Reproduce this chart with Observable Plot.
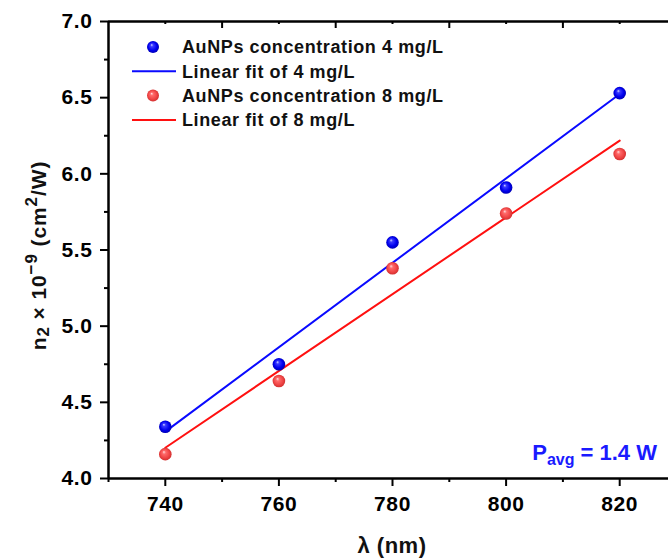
<!DOCTYPE html>
<html>
<head>
<meta charset="utf-8">
<script src="https://cdn.jsdelivr.net/npm/d3@7"></script>
<script src="https://cdn.jsdelivr.net/npm/@observablehq/plot@0.6"></script>
<style>
  html, body { margin: 0; padding: 0; background: #fff; overflow: hidden; }
  #chart { width: 668px; height: 560px; overflow: hidden; }
  #chart svg { font-family: "Liberation Sans", Arial, sans-serif; font-weight: bold; }
  #chart svg g[aria-label$="axis tick label"] text { letter-spacing: 0.6px; }
</style>
</head>
<body>
<div id="chart"></div>
<script>
// Nonlinear refractive index n2 (×10^-9 cm²/W) versus wavelength, two AuNP concentrations
const wavelengths = [740, 760, 780, 800, 820];
const n2Conc4 = [4.34, 4.75, 5.55, 5.91, 6.53];
const n2Conc8 = [4.16, 4.64, 5.38, 5.74, 6.13];
const seriesNames = ["AuNPs concentration 4 mg/L", "AuNPs concentration 8 mg/L"];
const fitNames = ["Linear fit of 4 mg/L", "Linear fit of 8 mg/L"];
const seriesColors = ["#0a0aff", "#ff1010"];

const xDomain = [730, 830];
const yDomain = [4.0, 7.0];
const xMajorTicks = [740, 760, 780, 800, 820];
const xMinorTicks = [730, 750, 770, 790, 810, 830];
const xTopMajorTicks = [750, 770, 790, 810];
const xTopMinorTicks = [740, 760, 780, 800, 820];
const yMajorTicks = [4.0, 4.5, 5.0, 5.5, 6.0, 6.5, 7.0];
const yMinorTicks = [4.25, 4.75, 5.25, 5.75, 6.25, 6.75];

const table = [
  ...wavelengths.map((w, i) => ({lambda: w, n2: n2Conc4[i], series: seriesNames[0]})),
  ...wavelengths.map((w, i) => ({lambda: w, n2: n2Conc8[i], series: seriesNames[1]}))
];

const W = 668, H = 560;
const mL = 108, mT = 21, mB = 82;
const frameH = H - mT - mB;
const axisW = 2.5;

const plot = Plot.plot({
  width: W,
  height: H,
  marginLeft: mL,
  marginRight: 0,
  marginTop: mT,
  marginBottom: mB,
  style: {fontFamily: "'Liberation Sans', Arial, sans-serif", fontWeight: "bold", color: "black", background: "white"},
  x: {domain: xDomain, range: [mL, mL + 568]},
  y: {domain: yDomain},
  color: {domain: seriesNames, range: seriesColors},
  marks: [
    // linear fits
    Plot.linearRegressionY(table, {x: "lambda", y: "n2", stroke: "series", ci: 0, strokeWidth: 2}),
    // measured points, drawn as shaded balls
    Plot.dot(table.filter(d => d.series === seriesNames[0]), {x: "lambda", y: "n2", r: 6.3, fill: "url(#ball-blue)"}),
    Plot.dot(table.filter(d => d.series === seriesNames[1]), {x: "lambda", y: "n2", r: 6.3, fill: "url(#ball-red)"}),
    // frame: left, bottom, top
    Plot.ruleX([xDomain[0]], {strokeWidth: axisW}),
    Plot.ruleY([yDomain[0]], {strokeWidth: axisW}),
    Plot.ruleY([yDomain[1]], {strokeWidth: axisW}),
    // bottom axis
    Plot.axisX(xMajorTicks, {anchor: "bottom", tickSize: 8, tickPadding: 10, strokeWidth: 2, fontSize: 21, tickFormat: d => String(d), label: null}),
    Plot.axisX(xMinorTicks, {anchor: "bottom", tickSize: 4, strokeWidth: 2, fill: "none", label: null}),
    // top axis ticks point inward
    Plot.tickX(xTopMajorTicks, {x: d => d, insetBottom: frameH - 7, strokeWidth: 2}),
    Plot.tickX(xTopMinorTicks, {x: d => d, insetBottom: frameH - 3, strokeWidth: 2}),
    // left axis
    Plot.axisY(yMajorTicks, {anchor: "left", tickSize: 8, tickPadding: 8, strokeWidth: 2, fontSize: 21, tickFormat: d3.format(".1f"), label: null}),
    Plot.axisY(yMinorTicks, {anchor: "left", tickSize: 4, strokeWidth: 2, fill: "none", label: null})
  ]
});

const svg = d3.select(plot);

// radial gradients giving the markers a glossy sphere look
const defs = svg.insert("defs", ":first-child");
function ball(id, stops) {
  const g = defs.append("radialGradient").attr("id", id)
    .attr("cx", "50%").attr("cy", "50%").attr("r", "55%").attr("fx", "38%").attr("fy", "32%");
  stops.forEach(([o, c]) => g.append("stop").attr("offset", o).attr("stop-color", c));
}
ball("ball-blue", [["0%", "#d8d8ff"], ["22%", "#3a3aff"], ["65%", "#0000ee"], ["100%", "#0000a8"]]);
ball("ball-red", [["0%", "#ffe0e0"], ["25%", "#ff6a6a"], ["65%", "#f04646"], ["100%", "#cc2a2a"]]);

const x = plot.scale("x"), y = plot.scale("y");
const font = "'Liberation Sans', Arial, sans-serif";

// legend
const legendRows = [
  {kind: "dot", fill: "url(#ball-blue)", label: seriesNames[0]},
  {kind: "line", stroke: seriesColors[0], label: fitNames[0]},
  {kind: "dot", fill: "url(#ball-red)", label: seriesNames[1]},
  {kind: "line", stroke: seriesColors[1], label: fitNames[1]}
];
const legend = svg.append("g").attr("transform", "translate(132,47)")
  .attr("font-family", font).attr("font-weight", "bold").attr("font-size", 18)
  .attr("text-anchor", "start").attr("letter-spacing", "0.6px");
legendRows.forEach((row, i) => {
  const g = legend.append("g").attr("transform", `translate(0,${i * 24.3})`);
  if (row.kind === "dot") g.append("circle").attr("cx", 21).attr("r", 6).attr("fill", row.fill);
  else g.append("line").attr("x1", 0).attr("x2", 44).attr("stroke", row.stroke).attr("stroke-width", 2);
  g.append("text").attr("x", 50).attr("dy", "0.36em").attr("fill", "#111").text(row.label);
});

// y axis title with subscript and superscripts
const yTitle = svg.append("text")
  .attr("transform", `translate(46,${(y.range[0] + y.range[1]) / 2 + 6}) rotate(-90)`)
  .attr("text-anchor", "middle").attr("font-family", font).attr("font-weight", "bold")
  .attr("font-size", 21).attr("letter-spacing", "0.9px").attr("fill", "#111");
yTitle.append("tspan").text("n");
yTitle.append("tspan").attr("font-size", 17).attr("baseline-shift", "-3").text("2");
yTitle.append("tspan").text(" × 10");
yTitle.append("tspan").attr("font-size", 17).attr("baseline-shift", "9").text("\u22129");
yTitle.append("tspan").text(" (cm");
yTitle.append("tspan").attr("font-size", 17).attr("baseline-shift", "9").text("2");
yTitle.append("tspan").text("/W)");

// x axis title
svg.append("text")
  .attr("x", x.apply(780)).attr("y", 553)
  .attr("text-anchor", "middle").attr("font-family", font).attr("font-weight", "bold")
  .attr("font-size", 22).attr("letter-spacing", "0.5px").attr("fill", "#111").text("λ (nm)");

// average power annotation
const pAvg = svg.append("text")
  .attr("x", 657).attr("y", 460).attr("text-anchor", "end")
  .attr("font-family", font).attr("font-weight", "bold").attr("font-size", 22).attr("fill", "#1a1aff");
pAvg.append("tspan").text("P");
pAvg.append("tspan").attr("font-size", 16).attr("baseline-shift", "-5").text("avg");
pAvg.append("tspan").text(" = 1.4 W");

document.getElementById("chart").appendChild(plot);
</script>
</body>
</html>
